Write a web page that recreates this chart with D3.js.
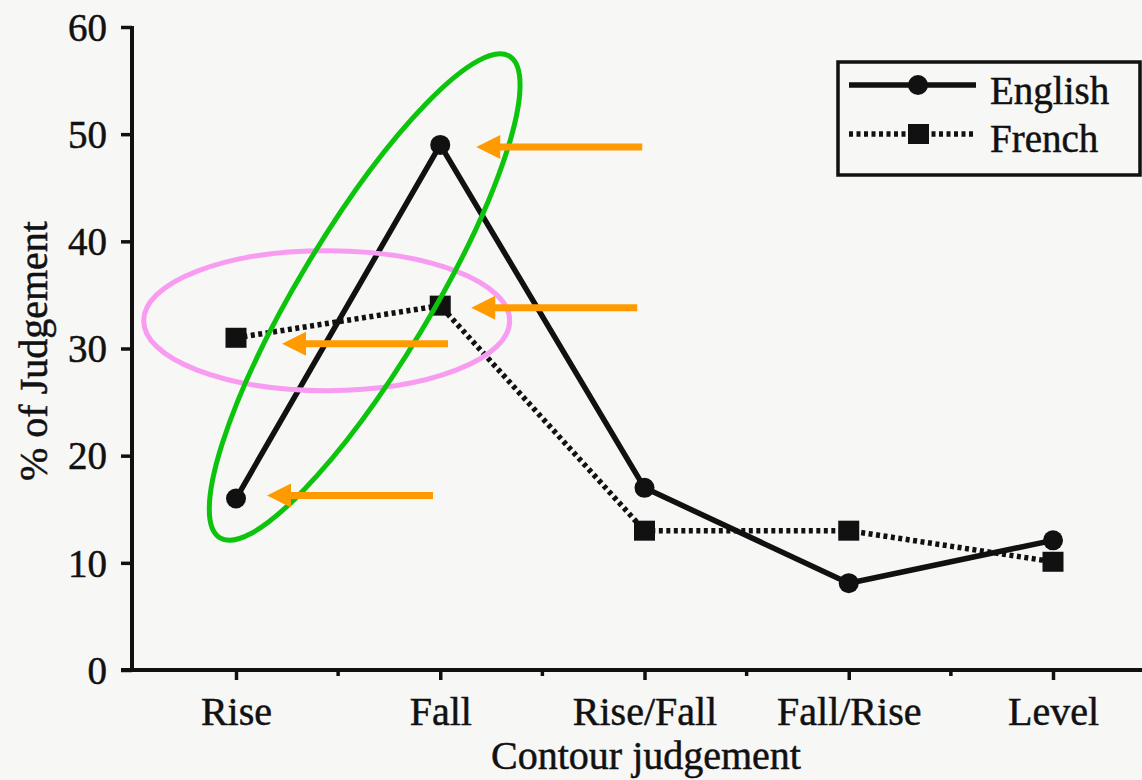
<!DOCTYPE html>
<html>
<head>
<meta charset="utf-8">
<script src="https://cdn.jsdelivr.net/npm/d3@7"></script>
<style>
  body { margin: 0; background: #f7f7f6; }
  svg { display: block; }
  text { font-family: "Liberation Serif", "DejaVu Serif", serif; fill: #111; stroke: #111; stroke-width: 0.5px; }
</style>
</head>
<body>
<svg id="chart" width="1142" height="780"></svg>
<script>
// contour judgement data
var categories = ["Rise", "Fall", "Rise/Fall", "Fall/Rise", "Level"];
var english = [16, 49, 17, 8.1, 12.1];
var french = [31, 34, 13, 13, 10.1];
var yTicks = [0, 10, 20, 30, 40, 50, 60];

// highlight arrows point at these points (series, category)
var arrowTargets = [
  { s: "English", c: "Fall" },
  { s: "French", c: "Fall" },
  { s: "French", c: "Rise" },
  { s: "English", c: "Rise" }
];

var svg = d3.select("#chart");
var W = 1142, H = 780;

var x = d3.scalePoint().domain(categories).range([236, 1053]);
var y = d3.scaleLinear().domain([0, 60]).range([670, 27]);
// index scale for annotations that sit between categories
var xi = d3.scaleLinear().domain([0, categories.length - 1]).range([236, 1053]);

var seriesVals = { English: english, French: french };

//////////////// axes
var gy = svg.append("g").attr("transform", "translate(132,0)")
    .call(d3.axisLeft(y).tickValues(yTicks).tickSize(11).tickPadding(14).tickFormat(d3.format("d")));
gy.select(".domain").attr("stroke", "#111").attr("stroke-width", 4).attr("d", "M0," + (y(60) - 1) + "V" + y(0));
gy.selectAll(".tick line").attr("stroke", "#111").attr("stroke-width", 3.5);
gy.selectAll(".tick text").style("font-size", "39px").attr("dy", "0.34em");

var gx = svg.append("g").attr("transform", "translate(0," + y(0) + ")")
    .call(d3.axisBottom(x).tickSize(10).tickPadding(14));
gx.select(".domain").attr("stroke", "#111").attr("stroke-width", 4).attr("d", "M121,0H" + W);
gx.selectAll(".tick line").attr("stroke", "#111").attr("stroke-width", 3.5);
gx.selectAll(".tick text").style("font-size", "40px").attr("dy", "0.77em");

// short ticks between categories
var step = x.step();
gx.selectAll("line.minor")
    .data(categories.slice(1))
    .enter().append("line")
    .attr("class", "minor")
    .attr("x1", function(d) { return x(d) - step / 2; })
    .attr("x2", function(d) { return x(d) - step / 2; })
    .attr("y1", 0).attr("y2", 6)
    .attr("stroke", "#111").attr("stroke-width", 3.5);

svg.append("text")
    .attr("x", 646).attr("y", 769)
    .attr("text-anchor", "middle")
    .style("font-size", "40px")
    .text("Contour judgement");

svg.append("text")
    .attr("transform", "translate(47,351) rotate(-90)")
    .attr("text-anchor", "middle")
    .style("font-size", "40px")
    .text("% of Judgement");

//////////////// lines
var line = d3.line()
    .x(function(d, i) { return x(categories[i]); })
    .y(function(d) { return y(d); });

svg.append("path").datum(english)
    .attr("d", line).attr("fill", "none")
    .attr("stroke", "#111").attr("stroke-width", 5.5).attr("stroke-linejoin", "round");

svg.append("path").datum(french)
    .attr("d", line).attr("fill", "none")
    .attr("stroke", "#111").attr("stroke-width", 5.5).attr("stroke-dasharray", "4,3.5");

svg.selectAll("circle.en").data(english).enter().append("circle")
    .attr("class", "en")
    .attr("cx", function(d, i) { return x(categories[i]); })
    .attr("cy", function(d) { return y(d); })
    .attr("r", 10).attr("fill", "#111");

svg.selectAll("rect.fr").data(french).enter().append("rect")
    .attr("class", "fr")
    .attr("x", function(d, i) { return x(categories[i]) - 10.5; })
    .attr("y", function(d) { return y(d) - 10; })
    .attr("width", 21).attr("height", 20).attr("fill", "#111");

//////////////// legend
var lg = svg.append("g");
lg.append("rect").attr("x", 838).attr("y", 62).attr("width", 302).attr("height", 113)
    .attr("fill", "none").attr("stroke", "#111").attr("stroke-width", 3.5);
lg.append("line").attr("x1", 849).attr("x2", 976).attr("y1", 85).attr("y2", 85)
    .attr("stroke", "#111").attr("stroke-width", 5.5);
lg.append("circle").attr("cx", 918).attr("cy", 85).attr("r", 10).attr("fill", "#111");
lg.append("line").attr("x1", 849).attr("x2", 976).attr("y1", 134).attr("y2", 134)
    .attr("stroke", "#111").attr("stroke-width", 5.5).attr("stroke-dasharray", "4,3.5");
lg.append("rect").attr("x", 908).attr("y", 124).attr("width", 21).attr("height", 20).attr("fill", "#111");
lg.append("text").attr("x", 990).attr("y", 104).style("font-size", "39px").text("English");
lg.append("text").attr("x", 990).attr("y", 152).style("font-size", "39px").text("French");

//////////////// highlight overlays
svg.append("ellipse")
    .attr("cx", xi(0.444)).attr("cy", y(32.6))
    .attr("rx", 183).attr("ry", 70)
    .attr("fill", "none").attr("stroke", "#f89cf2").attr("stroke-width", 5);

svg.append("ellipse")
    .attr("transform", "translate(" + xi(0.63) + "," + y(34.8) + ") rotate(-59)")
    .attr("rx", 281).attr("ry", 66)
    .attr("fill", "none").attr("stroke", "#0cc40c").attr("stroke-width", 5);

var arrowGap = [36, 31, 46, 31];
var arrowDy = [2, 2, 6, -3];
arrowTargets.forEach(function(a, i) {
  var idx = categories.indexOf(a.c);
  var tx = x(a.c) + arrowGap[i];
  var ty = y(seriesVals[a.s][idx]) + arrowDy[i];
  var g = svg.append("g");
  g.append("line")
      .attr("x1", tx + 20).attr("x2", tx + 166)
      .attr("y1", ty).attr("y2", ty)
      .attr("stroke", "#ff9a00").attr("stroke-width", 7);
  g.append("path")
      .attr("d", "M" + tx + "," + ty + "L" + (tx + 24) + "," + (ty - 12) + "L" + (tx + 24) + "," + (ty + 12) + "Z")
      .attr("fill", "#ff9a00");
});
</script>
</body>
</html>
